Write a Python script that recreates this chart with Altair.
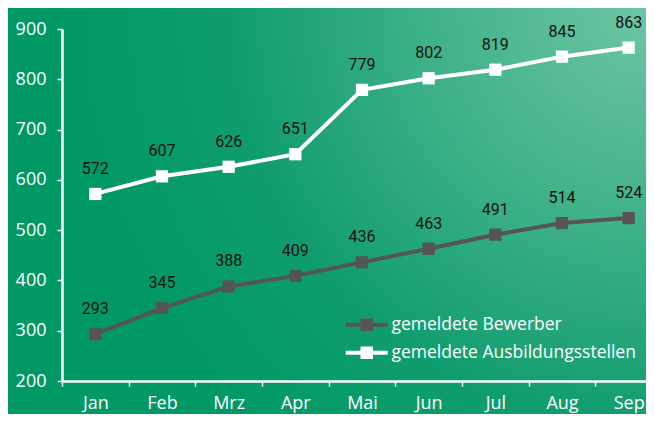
import altair as alt
import pandas as pd

months = ["Jan", "Feb", "Mrz", "Apr", "Mai", "Jun", "Jul", "Aug", "Sep"]
bewerber = [293, 345, 388, 409, 436, 463, 491, 514, 524]
stellen = [572, 607, 626, 651, 779, 802, 819, 845, 863]
series_names = ["gemeldete Bewerber", "gemeldete Ausbildungsstellen"]
series_colors = ["#555555", "#ffffff"]

rows = []
for m, b, s in zip(months, bewerber, stellen):
    rows.append({"month": m, "value": b, "series": series_names[0]})
    rows.append({"month": m, "value": s, "series": series_names[1]})
df = pd.DataFrame(rows)

W, H = 584, 352
PAD_L, PAD_T, PAD_R, PAD_B = 54, 21, 0, 33

grad = alt.Gradient(
    gradient="radial",
    x1=1, y1=0.18, r1=0,
    x2=1, y2=0.18, r2=1.0,
    stops=[
        alt.GradientStop(offset=0, color="#6cc6a3"),
        alt.GradientStop(offset=0.3, color="#45b48b"),
        alt.GradientStop(offset=0.65, color="#109d6e"),
        alt.GradientStop(offset=0.9, color="#009966"),
        alt.GradientStop(offset=1, color="#009966"),
    ],
)

bg = alt.Chart(pd.DataFrame({"a": [0]})).mark_rect(fill=grad).encode(
    x=alt.value(-PAD_L), x2=alt.value(W + PAD_R),
    y=alt.value(-PAD_T), y2=alt.value(H + PAD_B),
)

sym = "M-4.2,0L4.2,0M-0.85,-0.85L0.85,-0.85L0.85,0.85L-0.85,0.85Z"
leg = alt.Legend(
    title=None, orient="none", legendX=296, legendY=287,
    symbolType=sym, symbolSize=100, symbolStrokeWidth=4,
    labelColor="white", labelFontSize=17.5, labelFont="Open Sans",
    labelOffset=16, rowPadding=3, symbolOpacity=1, labelLimit=0,
)

xenc = alt.X(
    "month:N", sort=months, title=None,
    scale=alt.Scale(type="band", paddingInner=0, paddingOuter=0, range=[0, 600]),
    axis=alt.Axis(
        tickBand="extent", labelAngle=0, domainColor="white", domainWidth=2.5,
        tickColor="white", tickWidth=1.5, tickSize=5, labelColor="white",
        labelFontSize=18, labelFont="Open Sans", labelPadding=8, zindex=1,
    ),
)
yenc = alt.Y(
    "value:Q", title=None,
    scale=alt.Scale(domain=[200, 900], nice=False, zero=False),
    axis=alt.Axis(
        values=[200, 300, 400, 500, 600, 700, 800, 900], grid=False,
        domainColor="white", domainWidth=2.5, tickColor="white", tickWidth=1.5,
        tickSize=5, labelColor="white", labelFontSize=18, labelFont="Open Sans",
        labelPadding=11, zindex=1,
    ),
)

base = alt.Chart(df)
line = base.mark_line(strokeWidth=4).encode(
    x=xenc, y=yenc,
    stroke=alt.Stroke("series:N", scale=alt.Scale(domain=series_names, range=series_colors), legend=leg),
)
pts = base.mark_square(size=150, opacity=1, filled=True).encode(
    x=xenc, y=yenc,
    fill=alt.Fill("series:N", scale=alt.Scale(domain=series_names, range=series_colors), legend=leg),
)
labels = base.mark_text(dy=-25, fontSize=16, font="Roboto", color="#111111").encode(
    x=xenc, y=yenc, text="value:Q",
)

chart = alt.layer(bg, line, pts, labels).properties(
    width=W, height=H,
    autosize=alt.AutoSizeParams(type="none"),
    padding={"left": PAD_L, "top": PAD_T, "right": PAD_R, "bottom": PAD_B},
    background="#009966",
).configure_view(stroke=None)

chart.save("out.html", embed_options={"renderer": "svg", "actions": False})
